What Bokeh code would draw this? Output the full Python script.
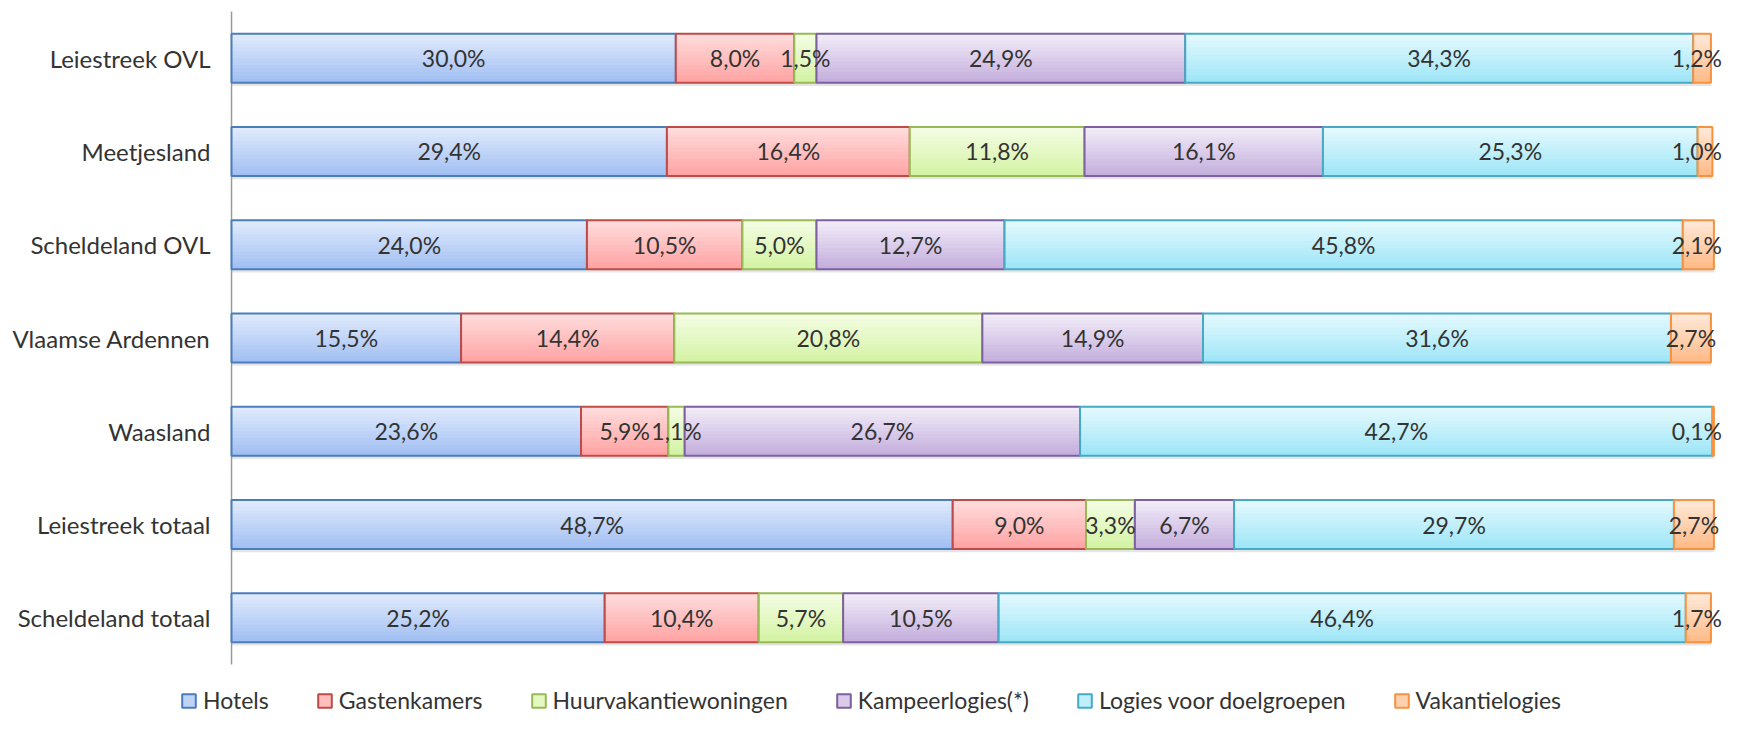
from bokeh.plotting import figure
from bokeh.models import ColumnDataSource, Range1d, Legend, LegendItem
from bokeh.transform import dodge
from bokeh.core.properties import value
from bokeh.embed import file_html
from bokeh.resources import INLINE

categories = ["Leiestreek OVL", "Meetjesland", "Scheldeland OVL", "Vlaamse Ardennen",
              "Waasland", "Leiestreek totaal", "Scheldeland totaal"]
series = ["Hotels", "Gastenkamers", "Huurvakantiewoningen", "Kampeerlogies(*)",
          "Logies voor doelgroepen", "Vakantielogies"]
hotels = [30.0, 29.4, 24.0, 15.5, 23.6, 48.7, 25.2]
gastenkamers = [8.0, 16.4, 10.5, 14.4, 5.9, 9.0, 10.4]
huurvakantiewoningen = [1.5, 11.8, 5.0, 20.8, 1.1, 3.3, 5.7]
kampeerlogies = [24.9, 16.1, 12.7, 14.9, 26.7, 6.7, 10.5]
logies_doelgroepen = [34.3, 25.3, 45.8, 31.6, 42.7, 29.7, 46.4]
vakantielogies = [1.2, 1.0, 2.1, 2.7, 0.1, 2.7, 1.7]

values = [hotels, gastenkamers, huurvakantiewoningen, kampeerlogies,
          logies_doelgroepen, vakantielogies]

# (top colour, bottom colour, border colour)
styles = [
    ("#e0eafc", "#a2c0f3", "#4a7ebb"),
    ("#ffdcdc", "#ffa4a4", "#be4b48"),
    ("#f4fde4", "#d4f3a4", "#98b954"),
    ("#f2ecf8", "#c4afdd", "#7d60a0"),
    ("#e4f9fe", "#9ee6f7", "#46aac5"),
    ("#ffe8d8", "#ffbb88", "#f69240"),
]

FONT = value("Lato")
TEXT_COLOR = "#333333"
BAR_H = 0.525
N_STRIPS = 14
LABEL_MAX = 98.95

n = len(categories)
ypos = [n - 1 - i for i in range(n)]          # first category at the top

def hex_to_rgb(h):
    h = h.lstrip("#")
    return tuple(int(h[i:i + 2], 16) for i in (0, 2, 4))

def mix(c1, c2, t):
    a, b = hex_to_rgb(c1), hex_to_rgb(c2)
    return "#%02x%02x%02x" % tuple(round(a[i] + (b[i] - a[i]) * t) for i in range(3))

# frame covers the whole canvas; scales chosen so the bars sit where the reference has them
p = figure(width=1722, height=714, output_backend="svg", toolbar_location=None,
           x_axis_type=None, y_axis_type=None,
           y_range=Range1d(-1.036, n - 0.5 + 0.118), x_range=Range1d(-15.6, 100.68),
           min_border_left=0, min_border_right=0, min_border_top=0, min_border_bottom=0)
p.outline_line_color = None
p.xgrid.visible = False
p.ygrid.visible = False
p.background_fill_color = "white"
p.border_fill_color = "white"

# category axis: line + labels
p.segment(x0=[0], y0=[-0.5], x1=[0], y1=[n - 0.5], line_color="#9a9a9a", line_width=1.5)
cat_src = ColumnDataSource(dict(y=ypos, cat=categories))
p.text(x=0, y="y", text="cat", source=cat_src, x_offset=-21, text_font=FONT,
       text_font_size="24px", text_color=TEXT_COLOR, text_align="right",
       text_baseline="middle")

# shadows
totals = [sum(v[i] for v in values) for i in range(n)]
shadow_src = ColumnDataSource(dict(y=ypos, right=totals))
p.hbar(y=dodge("y", -0.035), left=0.05, right="right", height=BAR_H,
       source=shadow_src, fill_color="black", fill_alpha=0.10, line_color=None)

left = [0.0] * n
label_sources = []
legend_items = []
for s, vals in enumerate(values):
    top, bottom, border = styles[s]
    right = [l + v for l, v in zip(left, vals)]
    mids = [min((l + r) / 2, LABEL_MAX) for l, r in zip(left, right)]
    labels = [("%.1f" % v).replace(".", ",") + "%" for v in vals]
    src = ColumnDataSource(dict(y=ypos, left=left, right=right, mid=mids, label=labels))
    sh = BAR_H / N_STRIPS
    mid_r = None
    for k in range(N_STRIPS):
        off = BAR_H / 2 - (k + 0.5) * sh
        col = mix(top, bottom, k / (N_STRIPS - 1))
        r = p.hbar(y=dodge("y", off), left="left", right="right",
                   height=sh * 1.15, source=src, fill_color=col, line_color=None)
        if k == N_STRIPS // 2:
            mid_r = r
    br = p.hbar(y="y", left="left", right="right", height=BAR_H, source=src,
                fill_alpha=0, line_color=border, line_width=2)
    label_sources.append(src)
    legend_items.append(LegendItem(label=series[s], renderers=[mid_r, br]))
    left = right

for src in label_sources:
    p.text(x="mid", y="y", text="label", source=src, text_font=FONT,
           text_font_size="23px", text_color=TEXT_COLOR,
           text_align="center", text_baseline="middle")

lg = Legend(items=legend_items, location=(180, 0), orientation="horizontal",
            margin=0, padding=0, spacing=47,
            glyph_width=17, glyph_height=17, label_standoff=6,
            label_text_font="Lato", label_text_font_size="23px",
            label_text_color=TEXT_COLOR, label_height=17,
            border_line_alpha=0, background_fill_alpha=0)
p.add_layout(lg, "center")

open("out.html", "w").write(file_html(p, INLINE))
